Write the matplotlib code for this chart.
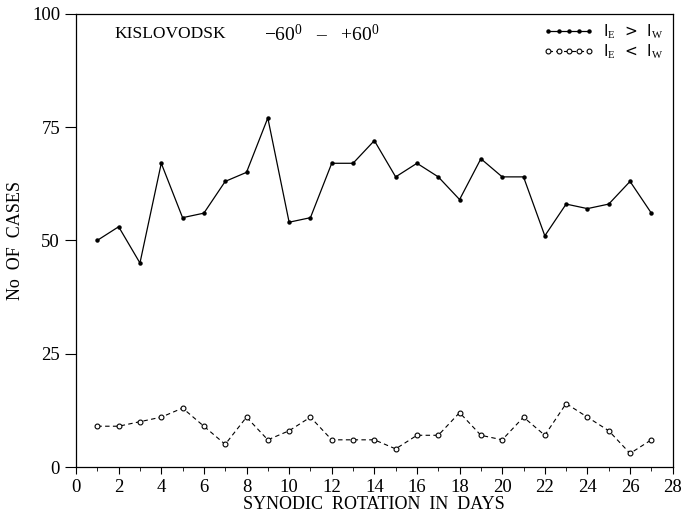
import numpy as np
from matplotlib import pyplot as plt

plt.rcParams['font.family'] = ['Liberation Serif', 'DejaVu Serif']
plt.rcParams['mathtext.fontset'] = 'custom'
plt.rcParams['mathtext.rm'] = 'Liberation Serif'
plt.rcParams['mathtext.it'] = 'Liberation Serif'

# synodic rotation days
days = np.arange(1, 28)
# I_E > I_W
east_gt = [50, 53, 45, 67, 55, 56, 63, 65, 77, 54, 55, 67, 67, 72,
           64, 67, 64, 59, 68, 64, 64, 51, 58, 57, 58, 63, 56]
# I_E < I_W
east_lt = [9, 9, 10, 11, 13, 9, 5, 11, 6, 8, 11, 6, 6, 6,
           4, 7, 7, 12, 7, 6, 11, 7, 14, 11, 8, 3, 6]

xticks = np.arange(0, 29, 2)
yticks = [0, 25, 50, 75, 100]

fig = plt.figure(figsize=(6.85, 5.14), dpi=100)
ax = fig.add_axes([0.111, 0.0914, 0.871, 0.882])

ax.plot(days, east_gt, color='black', lw=0.9, ls='-', marker='o', ms=2.2,
        label=r'I$_E$  >  I$_W$')
ax.plot(days, east_lt, color='black', lw=0.8, ls=(0, (4, 3)), marker='o', ms=3.5,
        mfc='white', mew=0.8, label=r'I$_E$  <  I$_W$')

ax.set_xlim(0, 28)
ax.set_ylim(0, 100)
ax.set_xticks(xticks)
ax.set_xticks(np.arange(0, 29, 1), minor=True)
ax.set_yticks(yticks)
ax.tick_params(axis='x', direction='out', length=5, labelsize=13.5, pad=3.5)
ax.tick_params(axis='x', which='minor', direction='out', length=3)
ax.tick_params(axis='y', direction='out', length=8, labelsize=13.5)
for s in ax.spines.values():
    s.set_linewidth(0.9)

ax.set_xlabel('SYNODIC  ROTATION  IN  DAYS', fontsize=13, labelpad=0)
ax.set_ylabel('No  OF  CASES', fontsize=13, labelpad=6)

ax.text(1.8, 95.5, 'KISLOVODSK', fontsize=12.5, va='center')
ax.text(8.8, 95.5, r'$-60^0$   –   $+60^0$', fontsize=14, va='center')

ax.legend(loc='upper right', frameon=False, handlelength=3.3, numpoints=5,
          borderaxespad=0.2, labelspacing=0.1, handletextpad=0.6,
          prop={'family': 'DejaVu Sans', 'size': 11})

plt.savefig('out.png', dpi=100)
